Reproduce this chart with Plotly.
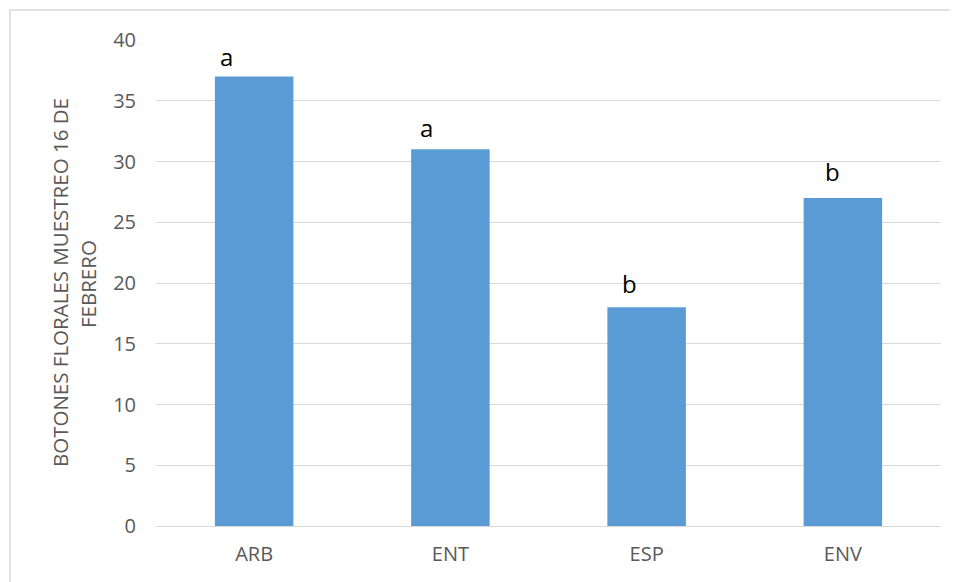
import plotly.graph_objects as go

categories = ["ARB", "ENT", "ESP", "ENV"]
values = [37, 31, 18, 27]
letters = ["a", "a", "b", "b"]
y_ticks = [0, 5, 10, 15, 20, 25, 30, 35, 40]
title_lines = ["BOTONES FLORALES MUESTREO 16 DE", "FEBRERO"]

# manual label offsets (pixels) as in the original hand-placed text boxes
letter_xshift = [-28, -24, -17, -10]
letter_yshift = [1, 3, 5, 8]

FONT = "Open Sans, Lato, sans-serif"
GRAY = "#595959"

# plot area in page pixels (page has 8px body offset)
PL, PT, PW, PH = 156, 40, 785, 486

fig = go.Figure()
fig.add_trace(go.Bar(
    x=categories, y=values, marker=dict(color="#5B9BD5", line=dict(width=0)),
))

for cat, val, lab, dx, dy in zip(categories, values, letters, letter_xshift, letter_yshift):
    fig.add_annotation(x=cat, y=val, text=lab, showarrow=False,
                       xanchor="center", yanchor="bottom", xshift=dx, yshift=dy,
                       font=dict(family=FONT, size=24, color="#000000"))

fig.update_layout(
    width=958, height=582,
    margin=dict(l=PL - 8, r=958 - (PL - 8) - PW, t=PT - 8, b=582 - (PT - 8) - PH),
    paper_bgcolor="white", plot_bgcolor="white",
    bargap=0.6,
    showlegend=False,
    font=dict(family=FONT, size=20, color=GRAY),
)
fig.update_xaxes(showgrid=False, showline=False, ticks="",
                 tickfont=dict(family=FONT, size=20, color=GRAY), ticklabelstandoff=14)
fig.update_yaxes(
    range=[0, 40], tickvals=y_ticks, showgrid=True, gridcolor="#D9D9D9", gridwidth=1.3,
    zeroline=True, zerolinecolor="#D9D9D9", zerolinewidth=1.3,
    tickfont=dict(family=FONT, size=20, color=GRAY), ticklabelstandoff=19,
)

def px_to_paper_x(px):
    return (px - PL) / PW

def px_to_paper_y(py):
    return (PT + PH - py) / PH

fig.add_annotation(text=title_lines[0], textangle=-90, showarrow=False,
                   xref="paper", yref="paper", x=px_to_paper_x(60), y=px_to_paper_y(283),
                   xanchor="center", yanchor="middle",
                   font=dict(family=FONT, size=20.5, color=GRAY))
fig.add_annotation(text=title_lines[1], textangle=-90, showarrow=False,
                   xref="paper", yref="paper", x=px_to_paper_x(88), y=px_to_paper_y(284),
                   xanchor="center", yanchor="middle",
                   font=dict(family=FONT, size=20.5, color=GRAY))

fig.add_shape(type="rect", xref="paper", yref="paper",
              x0=px_to_paper_x(10), x1=px_to_paper_x(1000),
              y0=px_to_paper_y(640), y1=px_to_paper_y(10),
              line=dict(color="#D9D9D9", width=1.5), fillcolor="rgba(0,0,0,0)", layer="below")

fig.write_html("out.html")
